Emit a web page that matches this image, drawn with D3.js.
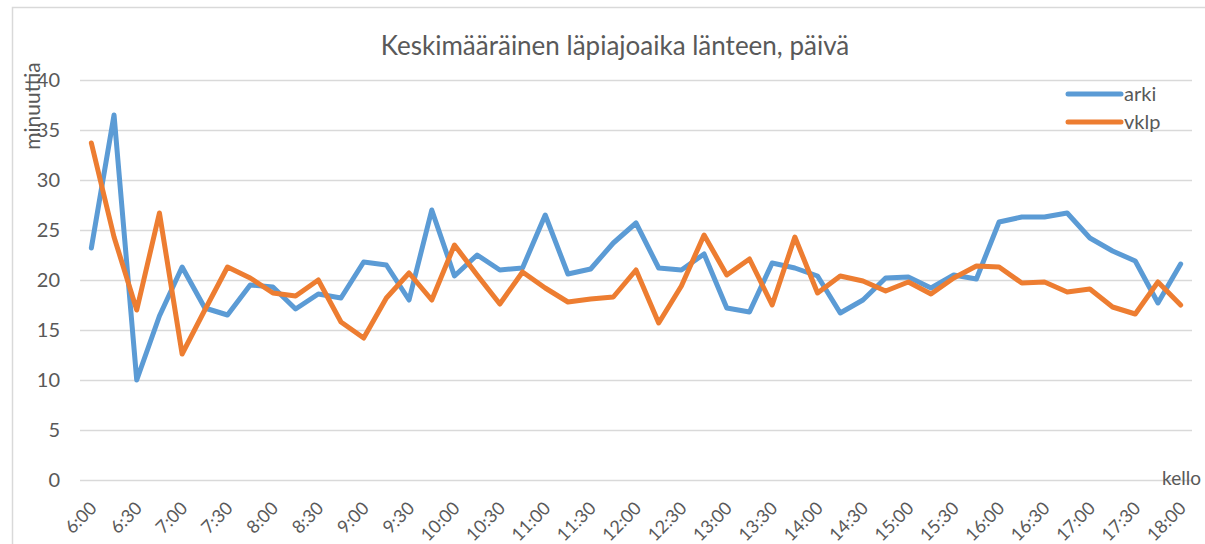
<!DOCTYPE html>
<html>
<head>
<meta charset="utf-8">
<script src="https://cdn.jsdelivr.net/npm/d3@7"></script>
<style>
  html, body { margin: 0; padding: 0; background: #fff; }
  svg { display: block; }
  text { font-family: Lato, "Open Sans", sans-serif; fill: #595959; }
</style>
</head>
<body>
<svg id="chart" width="1205" height="544"></svg>
<script>
// ---- data ----
const times = [
  "6:00","6:15","6:30","6:45","7:00","7:15","7:30","7:45","8:00","8:15","8:30","8:45",
  "9:00","9:15","9:30","9:45","10:00","10:15","10:30","10:45","11:00","11:15","11:30","11:45",
  "12:00","12:15","12:30","12:45","13:00","13:15","13:30","13:45","14:00","14:15","14:30","14:45",
  "15:00","15:15","15:30","15:45","16:00","16:15","16:30","16:45","17:00","17:15","17:30","17:45","18:00"
];
const arki = [
  23.2, 36.5, 10.0, 16.4, 21.3, 17.2, 16.5, 19.5, 19.3, 17.1, 18.6, 18.2,
  21.8, 21.5, 18.0, 27.0, 20.4, 22.5, 21.0, 21.2, 26.5, 20.6, 21.1, 23.7,
  25.7, 21.2, 21.0, 22.6, 17.2, 16.8, 21.7, 21.2, 20.4, 16.7, 18.0, 20.2,
  20.3, 19.2, 20.5, 20.1, 25.8, 26.3, 26.3, 26.7, 24.2, 22.9, 21.9, 17.7, 21.6
];
const vklp = [
  33.7, 24.3, 17.0, 26.7, 12.6, 17.0, 21.3, 20.2, 18.7, 18.4, 20.0, 15.8,
  14.2, 18.2, 20.7, 18.0, 23.5, 20.5, 17.6, 20.8, 19.2, 17.8, 18.1, 18.3,
  21.0, 15.7, 19.4, 24.5, 20.5, 22.1, 17.5, 24.3, 18.7, 20.4, 19.9, 18.9,
  19.8, 18.6, 20.2, 21.4, 21.3, 19.7, 19.8, 18.8, 19.1, 17.3, 16.6, 19.8, 17.5
];
const yTicks = [0, 5, 10, 15, 20, 25, 30, 35, 40];
const xTickLabels = times.filter((t, i) => i % 2 === 0);
const seriesNames = ["arki", "vklp"];
const colors = ["#5B9BD5", "#ED7D31"];
const titleText = "Keskimääräinen läpiajoaika länteen, päivä";
const yTitle = "minuuttia";
const xTitle = "kello";

// ---- layout ----
const svg = d3.select("#chart");
const plot = { left: 80, right: 1192, top: 80, bottom: 480 };
const FONT = "Lato, 'Open Sans', sans-serif";

// chart border
svg.append("rect")
  .attr("x", 12.5).attr("y", 7.5)
  .attr("width", 1250).attr("height", 600)
  .attr("fill", "none").attr("stroke", "#D9D9D9").attr("stroke-width", 1.5);

const x = d3.scaleBand().domain(times).range([plot.left, plot.right]).paddingInner(0).paddingOuter(0);
const y = d3.scaleLinear().domain([0, 40]).range([plot.bottom, plot.top]);
const cx = t => x(t) + x.bandwidth() / 2;

// gridlines + y labels
const yAxis = d3.axisLeft(y).tickValues(yTicks).tickSize(-(plot.right - plot.left)).tickPadding(20);
const gy = svg.append("g").attr("transform", `translate(${plot.left},0)`).call(yAxis);
gy.select(".domain").remove();
gy.selectAll(".tick line").attr("stroke", "#D9D9D9").attr("stroke-width", 1.5);
gy.selectAll(".tick text").style("font-size", "20px").attr("fill", "#595959")
  .style("font-family", FONT);

// x axis labels
const xAxis = d3.axisBottom(x).tickValues(xTickLabels).tickSize(0).tickPadding(0);
const gx = svg.append("g").attr("transform", `translate(0,${plot.bottom})`).call(xAxis);
gx.select(".domain").remove();
gx.selectAll(".tick text")
  .style("font-size", "18px").attr("fill", "#595959")
  .style("font-family", FONT)
  .attr("text-anchor", "end")
  .attr("x", 0).attr("y", 0).attr("dy", "0.35em")
  .attr("transform", "translate(2,25) rotate(-45)");

// lines
const line = d3.line().x((d, i) => cx(times[i])).y(d => y(d));
[arki, vklp].forEach((s, k) => {
  svg.append("path").datum(s)
    .attr("d", line)
    .attr("fill", "none")
    .attr("stroke", colors[k])
    .attr("stroke-width", 5)
    .attr("stroke-linejoin", "round")
    .attr("stroke-linecap", "round");
});

// title
svg.append("text").attr("x", 615).attr("y", 55).attr("text-anchor", "middle")
  .style("font-size", "26px").text(titleText);

// y title
svg.append("text").attr("transform", "translate(40,106) rotate(-90)")
  .attr("text-anchor", "middle").style("font-size", "21px").text(yTitle);

// x title
svg.append("text").attr("x", 1201).attr("y", 485).attr("text-anchor", "end")
  .style("font-size", "19px").text(xTitle);

// legend
seriesNames.forEach((n, k) => {
  const ly = 94 + k * 28;
  svg.append("line").attr("x1", 1068).attr("x2", 1121).attr("y1", ly).attr("y2", ly)
    .attr("stroke", colors[k]).attr("stroke-width", 5).attr("stroke-linecap", "round");
  svg.append("text").attr("x", 1124).attr("y", ly).attr("dy", "0.35em")
    .style("font-size", "20px").text(n);
});
</script>
</body>
</html>
